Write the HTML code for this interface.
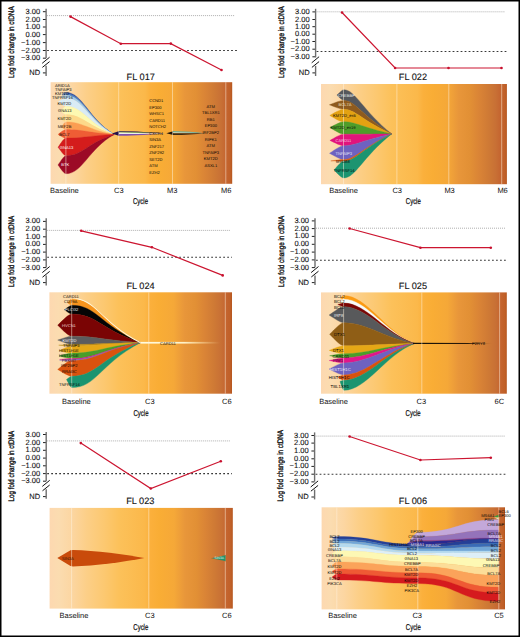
<!DOCTYPE html><html><head><meta charset="utf-8"><title>Fish plots</title><style>html,body{margin:0;padding:0;background:#fff;}body{width:520px;height:637px;overflow:hidden;font-family:"Liberation Sans",sans-serif;}svg{display:block;}</style></head><body><svg width="520" height="637" viewBox="0 0 520 637" font-family='"Liberation Sans", sans-serif' text-rendering="geometricPrecision"><defs><linearGradient id="g0" x1="0" y1="0" x2="1" y2="0"><stop offset="0.0" stop-color="#fdd8b0"/><stop offset="0.05" stop-color="#fbdcb0"/><stop offset="0.12" stop-color="#fcd6a2"/><stop offset="0.2" stop-color="#fccf88"/><stop offset="0.3" stop-color="#fcc870"/><stop offset="0.38" stop-color="#fcc15a"/><stop offset="0.52" stop-color="#fbb84a"/><stop offset="0.55" stop-color="#fbb03c"/><stop offset="0.6" stop-color="#f9ad35"/><stop offset="0.68" stop-color="#f5a838"/><stop offset="0.74" stop-color="#e8963a"/><stop offset="0.8" stop-color="#e29035"/><stop offset="0.85" stop-color="#da8436"/><stop offset="0.9" stop-color="#cf7a35"/><stop offset="0.94" stop-color="#c87035"/><stop offset="0.965" stop-color="#c56530"/><stop offset="0.99" stop-color="#c06028"/><stop offset="1.0" stop-color="#b5561e"/></linearGradient><linearGradient id="g1" x1="0" y1="0" x2="1" y2="0"><stop offset="0.0" stop-color="#fdd8b0"/><stop offset="0.05" stop-color="#fbdcb0"/><stop offset="0.12" stop-color="#fcd6a2"/><stop offset="0.2" stop-color="#fccf88"/><stop offset="0.3" stop-color="#fcc870"/><stop offset="0.38" stop-color="#fcc15a"/><stop offset="0.52" stop-color="#fbb84a"/><stop offset="0.55" stop-color="#fbb03c"/><stop offset="0.6" stop-color="#f9ad35"/><stop offset="0.68" stop-color="#f5a838"/><stop offset="0.74" stop-color="#e8963a"/><stop offset="0.8" stop-color="#e29035"/><stop offset="0.85" stop-color="#da8436"/><stop offset="0.9" stop-color="#cf7a35"/><stop offset="0.94" stop-color="#c87035"/><stop offset="0.965" stop-color="#c56530"/><stop offset="0.99" stop-color="#c06028"/><stop offset="1.0" stop-color="#b5561e"/></linearGradient><linearGradient id="g2" x1="0" y1="0" x2="1" y2="0"><stop offset="0.0" stop-color="#fdd8b0"/><stop offset="0.05" stop-color="#fbdcb0"/><stop offset="0.12" stop-color="#fcd6a2"/><stop offset="0.2" stop-color="#fccf88"/><stop offset="0.3" stop-color="#fcc870"/><stop offset="0.38" stop-color="#fcc15a"/><stop offset="0.52" stop-color="#fbb84a"/><stop offset="0.55" stop-color="#fbb03c"/><stop offset="0.6" stop-color="#f9ad35"/><stop offset="0.68" stop-color="#f5a838"/><stop offset="0.74" stop-color="#e8963a"/><stop offset="0.8" stop-color="#e29035"/><stop offset="0.85" stop-color="#da8436"/><stop offset="0.9" stop-color="#cf7a35"/><stop offset="0.94" stop-color="#c87035"/><stop offset="0.965" stop-color="#c56530"/><stop offset="0.99" stop-color="#c06028"/><stop offset="1.0" stop-color="#b5561e"/></linearGradient><linearGradient id="fadeW" x1="141" y1="0" x2="220" y2="0" gradientUnits="userSpaceOnUse"><stop offset="0" stop-color="#fffbe0"/><stop offset="0.55" stop-color="#fff6d0" stop-opacity="0.95"/><stop offset="1" stop-color="#ffe8b0" stop-opacity="0"/></linearGradient><linearGradient id="g3" x1="0" y1="0" x2="1" y2="0"><stop offset="0.0" stop-color="#fdd8b0"/><stop offset="0.05" stop-color="#fbdcb0"/><stop offset="0.12" stop-color="#fcd6a2"/><stop offset="0.2" stop-color="#fccf88"/><stop offset="0.3" stop-color="#fcc870"/><stop offset="0.38" stop-color="#fcc15a"/><stop offset="0.52" stop-color="#fbb84a"/><stop offset="0.55" stop-color="#fbb03c"/><stop offset="0.6" stop-color="#f9ad35"/><stop offset="0.68" stop-color="#f5a838"/><stop offset="0.74" stop-color="#e8963a"/><stop offset="0.8" stop-color="#e29035"/><stop offset="0.85" stop-color="#da8436"/><stop offset="0.9" stop-color="#cf7a35"/><stop offset="0.94" stop-color="#c87035"/><stop offset="0.965" stop-color="#c56530"/><stop offset="0.99" stop-color="#c06028"/><stop offset="1.0" stop-color="#b5561e"/></linearGradient><linearGradient id="fadeK" x1="411" y1="0" x2="492" y2="0" gradientUnits="userSpaceOnUse"><stop offset="0" stop-color="#151008"/><stop offset="0.7" stop-color="#2a1a08"/><stop offset="1" stop-color="#8a5020" stop-opacity="0"/></linearGradient><linearGradient id="g4" x1="0" y1="0" x2="1" y2="0"><stop offset="0.0" stop-color="#fdd8b0"/><stop offset="0.05" stop-color="#fbdcb0"/><stop offset="0.12" stop-color="#fcd6a2"/><stop offset="0.2" stop-color="#fccf88"/><stop offset="0.3" stop-color="#fcc870"/><stop offset="0.38" stop-color="#fcc15a"/><stop offset="0.52" stop-color="#fbb84a"/><stop offset="0.55" stop-color="#fbb03c"/><stop offset="0.6" stop-color="#f9ad35"/><stop offset="0.68" stop-color="#f5a838"/><stop offset="0.74" stop-color="#e8963a"/><stop offset="0.8" stop-color="#e29035"/><stop offset="0.85" stop-color="#da8436"/><stop offset="0.9" stop-color="#cf7a35"/><stop offset="0.94" stop-color="#c87035"/><stop offset="0.965" stop-color="#c56530"/><stop offset="0.99" stop-color="#c06028"/><stop offset="1.0" stop-color="#b5561e"/></linearGradient><linearGradient id="g5" x1="0" y1="0" x2="1" y2="0"><stop offset="0.0" stop-color="#fdd8b0"/><stop offset="0.05" stop-color="#fbdcb0"/><stop offset="0.12" stop-color="#fcd6a2"/><stop offset="0.2" stop-color="#fccf88"/><stop offset="0.3" stop-color="#fcc870"/><stop offset="0.38" stop-color="#fcc15a"/><stop offset="0.52" stop-color="#fbb84a"/><stop offset="0.55" stop-color="#fbb03c"/><stop offset="0.6" stop-color="#f9ad35"/><stop offset="0.68" stop-color="#f5a838"/><stop offset="0.74" stop-color="#e8963a"/><stop offset="0.8" stop-color="#e29035"/><stop offset="0.85" stop-color="#da8436"/><stop offset="0.9" stop-color="#cf7a35"/><stop offset="0.94" stop-color="#c87035"/><stop offset="0.965" stop-color="#c56530"/><stop offset="0.99" stop-color="#c06028"/><stop offset="1.0" stop-color="#b5561e"/></linearGradient></defs><rect x="0" y="0" width="520" height="637" fill="#ffffff"/><text transform="translate(14.1,42.2) rotate(-90)" x="0" y="0" font-size="8.1" text-anchor="middle" textLength="71.6" lengthAdjust="spacingAndGlyphs" fill="#111" stroke="#111" stroke-width="0.35">Log fold change in ctDNA</text>
<text x="40.1" y="13.7" font-size="7.5" text-anchor="end" fill="#111" stroke="#111" stroke-width="0.1">3.00</text>
<line x1="42.9" y1="11.7" x2="46.1" y2="11.7" stroke="#222" stroke-width="1"/>
<text x="40.1" y="21.5" font-size="7.5" text-anchor="end" fill="#111" stroke="#111" stroke-width="0.1">2.00</text>
<line x1="42.9" y1="19.5" x2="46.1" y2="19.5" stroke="#222" stroke-width="1"/>
<text x="40.1" y="29" font-size="7.5" text-anchor="end" fill="#111" stroke="#111" stroke-width="0.1">1.00</text>
<line x1="42.9" y1="27" x2="46.1" y2="27" stroke="#222" stroke-width="1"/>
<text x="40.1" y="36.6" font-size="7.5" text-anchor="end" fill="#111" stroke="#111" stroke-width="0.1">0.00</text>
<line x1="42.9" y1="34.6" x2="46.1" y2="34.6" stroke="#222" stroke-width="1"/>
<text x="40.1" y="44.6" font-size="7.5" text-anchor="end" fill="#111" stroke="#111" stroke-width="0.1">−1.00</text>
<line x1="42.9" y1="42.6" x2="46.1" y2="42.6" stroke="#222" stroke-width="1"/>
<text x="40.1" y="52.5" font-size="7.5" text-anchor="end" fill="#111" stroke="#111" stroke-width="0.1">−2.00</text>
<line x1="42.9" y1="50.5" x2="46.1" y2="50.5" stroke="#222" stroke-width="1"/>
<text x="40.1" y="60.2" font-size="7.5" text-anchor="end" fill="#111" stroke="#111" stroke-width="0.1">−3.00</text>
<line x1="42.9" y1="58.2" x2="46.1" y2="58.2" stroke="#222" stroke-width="1"/>
<text x="40.1" y="74.9" font-size="7.5" text-anchor="end" fill="#111" stroke="#111" stroke-width="0.1">ND</text>
<line x1="42.9" y1="72.9" x2="46.1" y2="72.9" stroke="#222" stroke-width="1"/>
<line x1="46.1" y1="8.8" x2="46.1" y2="57.9" stroke="#6e6e6e" stroke-width="1.4"/>
<line x1="46.1" y1="65.8" x2="46.1" y2="76" stroke="#6e6e6e" stroke-width="1.4"/>
<line x1="42.2" y1="63.3" x2="49.6" y2="57.2" stroke="#111" stroke-width="1.0"/>
<line x1="42.4" y1="67.4" x2="49.6" y2="61.6" stroke="#111" stroke-width="1.0"/>
<line x1="47.1" y1="15.6" x2="235" y2="15.6" stroke="#9a9a9a" stroke-width="0.8" stroke-dasharray="1,1"/>
<line x1="47.1" y1="50.5" x2="237" y2="50.5" stroke="#383838" stroke-width="1.1" stroke-dasharray="1.8,2.2"/>
<polyline points="70.5,16.6 120.8,43.7 170.8,43.6 221.5,70" fill="none" stroke="#cc1530" stroke-width="1.2"/>
<circle cx="70.5" cy="16.6" r="1.3" fill="#c8102e"/>
<circle cx="120.8" cy="43.7" r="1.3" fill="#c8102e"/>
<circle cx="170.8" cy="43.6" r="1.3" fill="#c8102e"/>
<circle cx="221.5" cy="70" r="1.3" fill="#c8102e"/>
<text x="126.6" y="79.8" font-size="9.2" text-anchor="start" fill="#111" stroke="#111" stroke-width="0.12">FL 017</text>
<rect x="50.6" y="82.2" width="181.6" height="101.6" fill="url(#g0)"/>
<path d="M 63,93.4 C 64.2,92.9 65.25,92.4 66,92.4 C 82.68,92.4 88.46,119.18 114.2,134.5 C 88.46,119.69 82.68,93.8 66,93.8 C 65.25,93.8 64.2,93.6 63,93.4 Z" fill="#26449a" stroke="#26449a" stroke-width="0.35" stroke-linejoin="round"/>
<path d="M 62,95 C 63.6,94.3 65,93.6 66,93.6 C 82.68,93.6 88.46,119.61 114.2,134.5 C 88.46,120.19 82.68,95.2 66,95.2 C 65,95.2 63.6,95.1 62,95 Z" fill="#4a7cc0" stroke="#4a7cc0" stroke-width="0.35" stroke-linejoin="round"/>
<path d="M 61,97.2 C 63,96.2 64.75,95.2 66,95.2 C 82.68,95.2 88.46,120.19 114.2,134.5 C 88.46,121.21 82.68,98 66,98 C 64.75,98 63,97.6 61,97.2 Z" fill="#a4cbe6" stroke="#a4cbe6" stroke-width="0.35" stroke-linejoin="round"/>
<path d="M 58.5,101.5 C 61.5,99.75 64.12,98 66,98 C 82.68,98 88.46,121.21 114.2,134.5 C 88.46,124.2 82.68,106.2 66,106.2 C 64.12,106.2 61.5,103.85 58.5,101.5 Z" fill="#d9ebf5" stroke="#d9ebf5" stroke-width="0.35" stroke-linejoin="round"/>
<path d="M 61,111 C 63,108.6 64.75,106.2 66,106.2 C 82.68,106.2 88.46,124.2 114.2,134.5 C 88.46,127.26 82.68,114.6 66,114.6 C 64.75,114.6 63,112.8 61,111 Z" fill="#fdf9b2" stroke="#fdf9b2" stroke-width="0.35" stroke-linejoin="round"/>
<path d="M 60.4,118.5 C 62.64,116.55 64.6,114.6 66,114.6 C 82.68,114.6 88.46,127.26 114.2,134.5 C 88.46,129.91 82.68,121.9 66,121.9 C 64.6,121.9 62.64,120.2 60.4,118.5 Z" fill="#fdd98a" stroke="#fdd98a" stroke-width="0.35" stroke-linejoin="round"/>
<path d="M 61.5,127 C 63.3,124.45 64.88,121.9 66,121.9 C 82.68,121.9 88.46,129.91 114.2,134.5 C 88.46,132.72 82.68,129.6 66,129.6 C 64.88,129.6 63.3,128.3 61.5,127 Z" fill="#fb9d52" stroke="#fb9d52" stroke-width="0.35" stroke-linejoin="round"/>
<path d="M 58,134.4 C 61.2,132 64,129.6 66,129.6 C 82.68,129.6 88.46,132.72 114.2,134.5 C 88.46,135.81 82.68,138.1 66,138.1 C 64,138.1 61.2,136.25 58,134.4 Z" fill="#ef5d35" stroke="#ef5d35" stroke-width="0.35" stroke-linejoin="round"/>
<path d="M 58,147.2 C 61.2,142.65 64,138.1 66,138.1 C 82.68,138.1 88.46,135.81 114.2,134.5 C 88.46,142.22 82.68,155.7 66,155.7 C 64,155.7 61.2,151.45 58,147.2 Z" fill="#d41c1c" stroke="#d41c1c" stroke-width="0.35" stroke-linejoin="round"/>
<path d="M 58,165 C 61.2,160.35 64,155.7 66,155.7 C 82.68,155.7 88.46,142.22 114.2,134.5 C 88.46,148.77 82.68,173.7 66,173.7 C 64,173.7 61.2,169.35 58,165 Z" fill="#9c0a26" stroke="#9c0a26" stroke-width="0.35" stroke-linejoin="round"/>
<path d="M 111.8,133.4 L 119.4,131.0 L 119.4,136.0 Z" fill="#24124a"/>
<path d="M 119,131 Q 132.8,131 165,133.4 Q 132.8,131.8 119,131.8 Z" fill="#2a1a55"/>
<path d="M 119,131.8 Q 132.8,131.8 165,133.4 Q 132.8,132.4 119,132.4 Z" fill="#2f7a40"/>
<path d="M 119,132.4 Q 132.8,132.4 165,133.4 Q 132.8,133.9 119,133.9 Z" fill="#eef2e6"/>
<path d="M 119,133.9 Q 132.8,133.9 165,133.4 Q 132.8,135.8 119,135.8 Z" fill="#7e50ae"/>
<path d="M 166.4,133.2 L 173.2,131.2 L 173.2,135.1 Z" fill="#1e1408"/>
<path d="M 173,131.2 Q 190.6,131.2 205,133.3 Q 190.6,132.4 173,132.4 Z" fill="#49b2ac"/>
<path d="M 173,132.4 Q 190.6,132.4 205,133.3 Q 190.6,133.2 173,133.2 Z" fill="#f2f2ea"/>
<path d="M 173,133.2 Q 190.6,133.2 205,133.3 Q 190.6,135.1 173,135.1 Z" fill="#3e2a12"/>
<line x1="65.9" y1="82.2" x2="65.9" y2="183.8" stroke="#fff4e0" stroke-width="0.9" opacity="0.55"/>
<line x1="118.7" y1="82.2" x2="118.7" y2="183.8" stroke="#fff4e0" stroke-width="0.9" opacity="0.55"/>
<line x1="172.5" y1="82.2" x2="172.5" y2="183.8" stroke="#fff4e0" stroke-width="0.9" opacity="0.55"/>
<line x1="225.8" y1="82.2" x2="225.8" y2="183.8" stroke="#fff4e0" stroke-width="0.9" opacity="0.55"/>
<text transform="translate(55,86.98) scale(0.410)" x="0" y="0" font-size="10" text-anchor="start" fill="#050505">ARID1A</text>
<text transform="translate(55,91.08) scale(0.410)" x="0" y="0" font-size="10" text-anchor="start" fill="#050505">TNFAIP3</text>
<text transform="translate(55,95.08) scale(0.410)" x="0" y="0" font-size="10" text-anchor="start" fill="#050505">KMT2D</text>
<text transform="translate(52,99.28) scale(0.410)" x="0" y="0" font-size="10" text-anchor="start" fill="#050505">TNFRSF14</text>
<text transform="translate(57.4,105.08) scale(0.410)" x="0" y="0" font-size="10" text-anchor="start" fill="#050505">KMT2D</text>
<text transform="translate(58,112.48) scale(0.410)" x="0" y="0" font-size="10" text-anchor="start" fill="#050505">GNA13</text>
<text transform="translate(57.4,119.68) scale(0.410)" x="0" y="0" font-size="10" text-anchor="start" fill="#050505">KMT2D</text>
<text transform="translate(57.7,128.38) scale(0.410)" x="0" y="0" font-size="10" text-anchor="start" fill="#050505">MEF2B</text>
<text transform="translate(59.2,136.28) scale(0.410)" x="0" y="0" font-size="10" text-anchor="start" fill="#050505">BCL7</text>
<text transform="translate(59.8,148.78) scale(0.410)" x="0" y="0" font-size="10" text-anchor="start" fill="#ffffff">GNA13</text>
<text transform="translate(61.2,166.08) scale(0.410)" x="0" y="0" font-size="10" text-anchor="start" fill="#ffffff">BTK</text>
<text transform="translate(149.2,101.98) scale(0.410)" x="0" y="0" font-size="10" text-anchor="start" fill="#050505">CCND1</text>
<text transform="translate(149.2,108.51) scale(0.410)" x="0" y="0" font-size="10" text-anchor="start" fill="#050505">EP300</text>
<text transform="translate(149.2,115.04) scale(0.410)" x="0" y="0" font-size="10" text-anchor="start" fill="#050505">WHSC1</text>
<text transform="translate(149.2,121.57) scale(0.410)" x="0" y="0" font-size="10" text-anchor="start" fill="#050505">CARD11</text>
<text transform="translate(149.2,128.1) scale(0.410)" x="0" y="0" font-size="10" text-anchor="start" fill="#050505">NOTCH2</text>
<text transform="translate(149.2,134.63) scale(0.410)" x="0" y="0" font-size="10" text-anchor="start" fill="#050505">CXCR4</text>
<text transform="translate(149.2,141.16) scale(0.410)" x="0" y="0" font-size="10" text-anchor="start" fill="#050505">SIN3A</text>
<text transform="translate(149.2,147.69) scale(0.410)" x="0" y="0" font-size="10" text-anchor="start" fill="#050505">ZNF217</text>
<text transform="translate(149.2,154.22) scale(0.410)" x="0" y="0" font-size="10" text-anchor="start" fill="#050505">ZNF292</text>
<text transform="translate(149.2,160.75) scale(0.410)" x="0" y="0" font-size="10" text-anchor="start" fill="#050505">SET2D</text>
<text transform="translate(149.2,167.28) scale(0.410)" x="0" y="0" font-size="10" text-anchor="start" fill="#050505">ATM</text>
<text transform="translate(149.2,173.81) scale(0.410)" x="0" y="0" font-size="10" text-anchor="start" fill="#050505">EZH2</text>
<text transform="translate(210.8,107.88) scale(0.410)" x="0" y="0" font-size="10" text-anchor="middle" fill="#050505">ATM</text>
<text transform="translate(210.8,114.41) scale(0.410)" x="0" y="0" font-size="10" text-anchor="middle" fill="#050505">TBL1XR1</text>
<text transform="translate(210.8,120.94) scale(0.410)" x="0" y="0" font-size="10" text-anchor="middle" fill="#050505">RB1</text>
<text transform="translate(210.8,127.47) scale(0.410)" x="0" y="0" font-size="10" text-anchor="middle" fill="#050505">EP300</text>
<text transform="translate(210.8,134) scale(0.410)" x="0" y="0" font-size="10" text-anchor="middle" fill="#050505">IRF2BP2</text>
<text transform="translate(210.8,140.53) scale(0.410)" x="0" y="0" font-size="10" text-anchor="middle" fill="#050505">RIPK1</text>
<text transform="translate(210.8,147.06) scale(0.410)" x="0" y="0" font-size="10" text-anchor="middle" fill="#050505">ATM</text>
<text transform="translate(210.8,153.59) scale(0.410)" x="0" y="0" font-size="10" text-anchor="middle" fill="#050505">TNFAIP3</text>
<text transform="translate(210.8,160.12) scale(0.410)" x="0" y="0" font-size="10" text-anchor="middle" fill="#050505">KMT2D</text>
<text transform="translate(210.8,166.65) scale(0.410)" x="0" y="0" font-size="10" text-anchor="middle" fill="#050505">ASXL1</text>
<text x="50" y="193.2" font-size="7.5" text-anchor="start" fill="#111" >Baseline</text>
<text x="118.8" y="193.2" font-size="7.5" text-anchor="middle" fill="#111" >C3</text>
<text x="172.3" y="193.2" font-size="7.5" text-anchor="middle" fill="#111" >M3</text>
<text x="226.3" y="193.2" font-size="7.5" text-anchor="middle" fill="#111" >M6</text>
<text x="133" y="203.6" font-size="8.6" textLength="15" lengthAdjust="spacingAndGlyphs" fill="#111" stroke="#111" stroke-width="0.25">Cycle</text>
<text transform="translate(283.6,42.1) rotate(-90)" x="0" y="0" font-size="8.1" text-anchor="middle" textLength="71.8" lengthAdjust="spacingAndGlyphs" fill="#111" stroke="#111" stroke-width="0.35">Log fold change in ctDNA</text>
<text x="309.6" y="13.9" font-size="7.5" text-anchor="end" fill="#111" stroke="#111" stroke-width="0.1">3.00</text>
<line x1="312.4" y1="11.9" x2="315.6" y2="11.9" stroke="#222" stroke-width="1"/>
<text x="309.6" y="21.5" font-size="7.5" text-anchor="end" fill="#111" stroke="#111" stroke-width="0.1">2.00</text>
<line x1="312.4" y1="19.5" x2="315.6" y2="19.5" stroke="#222" stroke-width="1"/>
<text x="309.6" y="28.7" font-size="7.5" text-anchor="end" fill="#111" stroke="#111" stroke-width="0.1">1.00</text>
<line x1="312.4" y1="26.7" x2="315.6" y2="26.7" stroke="#222" stroke-width="1"/>
<text x="309.6" y="36.2" font-size="7.5" text-anchor="end" fill="#111" stroke="#111" stroke-width="0.1">0.00</text>
<line x1="312.4" y1="34.2" x2="315.6" y2="34.2" stroke="#222" stroke-width="1"/>
<text x="309.6" y="43.5" font-size="7.5" text-anchor="end" fill="#111" stroke="#111" stroke-width="0.1">−1.00</text>
<line x1="312.4" y1="41.5" x2="315.6" y2="41.5" stroke="#222" stroke-width="1"/>
<text x="309.6" y="51.2" font-size="7.5" text-anchor="end" fill="#111" stroke="#111" stroke-width="0.1">−2.00</text>
<line x1="312.4" y1="49.2" x2="315.6" y2="49.2" stroke="#222" stroke-width="1"/>
<text x="309.6" y="58.8" font-size="7.5" text-anchor="end" fill="#111" stroke="#111" stroke-width="0.1">−3.00</text>
<line x1="312.4" y1="56.8" x2="315.6" y2="56.8" stroke="#222" stroke-width="1"/>
<text x="309.6" y="74.9" font-size="7.5" text-anchor="end" fill="#111" stroke="#111" stroke-width="0.1">ND</text>
<line x1="312.4" y1="72.9" x2="315.6" y2="72.9" stroke="#222" stroke-width="1"/>
<line x1="315.6" y1="8.8" x2="315.6" y2="57.4" stroke="#6e6e6e" stroke-width="1.4"/>
<line x1="315.6" y1="65.8" x2="315.6" y2="76" stroke="#6e6e6e" stroke-width="1.4"/>
<line x1="311.7" y1="62.8" x2="319.1" y2="56.7" stroke="#111" stroke-width="1.0"/>
<line x1="311.9" y1="67.4" x2="319.1" y2="61.6" stroke="#111" stroke-width="1.0"/>
<line x1="316.6" y1="11.8" x2="505" y2="11.8" stroke="#9a9a9a" stroke-width="0.8" stroke-dasharray="1,1"/>
<line x1="316.6" y1="51.5" x2="507" y2="51.5" stroke="#383838" stroke-width="1.1" stroke-dasharray="1.8,2.2"/>
<polyline points="342,12.5 395.1,68 448.5,68 501.5,68" fill="none" stroke="#cc1530" stroke-width="1.2"/>
<circle cx="342" cy="12.5" r="1.3" fill="#c8102e"/>
<circle cx="395.1" cy="68" r="1.3" fill="#c8102e"/>
<circle cx="448.5" cy="68" r="1.3" fill="#c8102e"/>
<circle cx="501.5" cy="68" r="1.3" fill="#c8102e"/>
<text x="398.8" y="79.8" font-size="9.2" text-anchor="start" fill="#111" stroke="#111" stroke-width="0.12">FL 022</text>
<rect x="321" y="84" width="185.9" height="100.2" fill="url(#g1)"/>
<path d="M 336.9,95.1 C 339.66,92.4 342.07,89.7 343.8,89.7 C 355.44,89.7 362.67,110.74 391.7,133.9 C 362.67,116.35 355.44,100.4 343.8,100.4 C 342.07,100.4 339.66,97.75 336.9,95.1 Z" fill="#54575c" stroke="#54575c" stroke-width="0.35" stroke-linejoin="round"/>
<path d="M 329.4,104.8 C 335.16,102.6 340.2,100.4 343.8,100.4 C 355.44,100.4 362.67,116.35 391.7,133.9 C 362.67,121.01 355.44,109.3 343.8,109.3 C 340.2,109.3 335.16,107.05 329.4,104.8 Z" fill="#8e5b1e" stroke="#8e5b1e" stroke-width="0.35" stroke-linejoin="round"/>
<path d="M 329.8,115.4 C 335.4,112.35 340.3,109.3 343.8,109.3 C 355.44,109.3 362.67,121.01 391.7,133.9 C 362.67,127.56 355.44,121.8 343.8,121.8 C 340.3,121.8 335.4,118.6 329.8,115.4 Z" fill="#e3a212" stroke="#e3a212" stroke-width="0.35" stroke-linejoin="round"/>
<path d="M 329.8,127.5 C 335.4,124.65 340.3,121.8 343.8,121.8 C 355.44,121.8 362.67,127.56 391.7,133.9 C 362.67,134.06 355.44,134.2 343.8,134.2 C 340.3,134.2 335.4,130.85 329.8,127.5 Z" fill="#4f9d2a" stroke="#4f9d2a" stroke-width="0.35" stroke-linejoin="round"/>
<path d="M 329.9,140.4 C 335.46,137.3 340.32,134.2 343.8,134.2 C 355.44,134.2 362.67,134.06 391.7,133.9 C 362.67,140.08 355.44,145.7 343.8,145.7 C 340.32,145.7 335.46,143.05 329.9,140.4 Z" fill="#e2147c" stroke="#e2147c" stroke-width="0.35" stroke-linejoin="round"/>
<path d="M 329.5,153.3 C 335.22,149.5 340.23,145.7 343.8,145.7 C 355.44,145.7 362.67,140.08 391.7,133.9 C 362.67,147.31 355.44,159.5 343.8,159.5 C 340.23,159.5 335.22,156.4 329.5,153.3 Z" fill="#6e62c0" stroke="#6e62c0" stroke-width="0.35" stroke-linejoin="round"/>
<path d="M 330.8,160.9 C 336,160.2 340.55,159.5 343.8,159.5 C 355.44,159.5 362.67,147.31 391.7,133.9 C 362.67,148.21 355.44,161.2 343.8,161.2 C 340.55,161.2 336,161.05 330.8,160.9 Z" fill="#d75a10" stroke="#d75a10" stroke-width="0.35" stroke-linejoin="round"/>
<path d="M 334,170 C 337.92,165.6 341.35,161.2 343.8,161.2 C 355.44,161.2 362.67,148.21 391.7,133.9 C 362.67,156.96 355.44,177.9 343.8,177.9 C 341.35,177.9 337.92,173.95 334,170 Z" fill="#1c9470" stroke="#1c9470" stroke-width="0.35" stroke-linejoin="round"/>
<line x1="343.5" y1="84" x2="343.5" y2="184.2" stroke="#fff4e0" stroke-width="0.9" opacity="0.55"/>
<line x1="396.9" y1="84" x2="396.9" y2="184.2" stroke="#fff4e0" stroke-width="0.9" opacity="0.55"/>
<line x1="448.8" y1="84" x2="448.8" y2="184.2" stroke="#fff4e0" stroke-width="0.9" opacity="0.55"/>
<line x1="501.7" y1="84" x2="501.7" y2="184.2" stroke="#fff4e0" stroke-width="0.9" opacity="0.55"/>
<text transform="translate(338,96.98) scale(0.410)" x="0" y="0" font-size="10" text-anchor="start" fill="#f0f0f0">CREBBP</text>
<text transform="translate(338.5,106.28) scale(0.410)" x="0" y="0" font-size="10" text-anchor="start" fill="#f5e6c8">BCL7A</text>
<text transform="translate(333,116.88) scale(0.410)" x="0" y="0" font-size="10" text-anchor="start" fill="#050505">KMT2D_ex6</text>
<text transform="translate(330.5,128.78) scale(0.410)" x="0" y="0" font-size="10" text-anchor="start" fill="#050505">KMT2D_ex19</text>
<text transform="translate(335.5,141.88) scale(0.410)" x="0" y="0" font-size="10" text-anchor="start" fill="#f7d0e6">CARD11</text>
<text transform="translate(335.5,154.68) scale(0.410)" x="0" y="0" font-size="10" text-anchor="start" fill="#e6e2f6">TNFAIP3</text>
<text transform="translate(336,162.78) scale(0.410)" x="0" y="0" font-size="10" text-anchor="start" fill="#050505">MYD88</text>
<text transform="translate(333.8,171.78) scale(0.410)" x="0" y="0" font-size="10" text-anchor="start" fill="#050505">TNFRSF14</text>
<text x="329.2" y="193.4" font-size="7.5" text-anchor="start" fill="#111" >Baseline</text>
<text x="397.2" y="193.4" font-size="7.5" text-anchor="middle" fill="#111" >C3</text>
<text x="449.6" y="193.4" font-size="7.5" text-anchor="middle" fill="#111" >M3</text>
<text x="502.6" y="193.4" font-size="7.5" text-anchor="middle" fill="#111" >M6</text>
<text x="405.8" y="203.5" font-size="8.6" textLength="15" lengthAdjust="spacingAndGlyphs" fill="#111" stroke="#111" stroke-width="0.25">Cycle</text>
<text transform="translate(14.1,251.4) rotate(-90)" x="0" y="0" font-size="8.1" text-anchor="middle" textLength="71.2" lengthAdjust="spacingAndGlyphs" fill="#111" stroke="#111" stroke-width="0.35">Log fold change in ctDNA</text>
<text x="40.2" y="223.4" font-size="7.5" text-anchor="end" fill="#111" stroke="#111" stroke-width="0.1">3.00</text>
<line x1="43" y1="221.4" x2="46.2" y2="221.4" stroke="#222" stroke-width="1"/>
<text x="40.2" y="231.2" font-size="7.5" text-anchor="end" fill="#111" stroke="#111" stroke-width="0.1">2.00</text>
<line x1="43" y1="229.2" x2="46.2" y2="229.2" stroke="#222" stroke-width="1"/>
<text x="40.2" y="238.8" font-size="7.5" text-anchor="end" fill="#111" stroke="#111" stroke-width="0.1">1.00</text>
<line x1="43" y1="236.8" x2="46.2" y2="236.8" stroke="#222" stroke-width="1"/>
<text x="40.2" y="246.4" font-size="7.5" text-anchor="end" fill="#111" stroke="#111" stroke-width="0.1">0.00</text>
<line x1="43" y1="244.4" x2="46.2" y2="244.4" stroke="#222" stroke-width="1"/>
<text x="40.2" y="254.1" font-size="7.5" text-anchor="end" fill="#111" stroke="#111" stroke-width="0.1">−1.00</text>
<line x1="43" y1="252.1" x2="46.2" y2="252.1" stroke="#222" stroke-width="1"/>
<text x="40.2" y="261.9" font-size="7.5" text-anchor="end" fill="#111" stroke="#111" stroke-width="0.1">−2.00</text>
<line x1="43" y1="259.9" x2="46.2" y2="259.9" stroke="#222" stroke-width="1"/>
<text x="40.2" y="269.6" font-size="7.5" text-anchor="end" fill="#111" stroke="#111" stroke-width="0.1">−3.00</text>
<line x1="43" y1="267.6" x2="46.2" y2="267.6" stroke="#222" stroke-width="1"/>
<text x="40.2" y="284.6" font-size="7.5" text-anchor="end" fill="#111" stroke="#111" stroke-width="0.1">ND</text>
<line x1="43" y1="282.6" x2="46.2" y2="282.6" stroke="#222" stroke-width="1"/>
<line x1="46.2" y1="218.2" x2="46.2" y2="267.2" stroke="#6e6e6e" stroke-width="1.4"/>
<line x1="46.2" y1="275.6" x2="46.2" y2="285.5" stroke="#6e6e6e" stroke-width="1.4"/>
<line x1="42.3" y1="272.6" x2="49.7" y2="266.5" stroke="#111" stroke-width="1.0"/>
<line x1="42.5" y1="277.2" x2="49.7" y2="271.4" stroke="#111" stroke-width="1.0"/>
<line x1="47.2" y1="230.4" x2="230" y2="230.4" stroke="#9a9a9a" stroke-width="0.8" stroke-dasharray="1,1"/>
<line x1="47.2" y1="257.2" x2="232" y2="257.2" stroke="#383838" stroke-width="1.1" stroke-dasharray="1.8,2.2"/>
<polyline points="81.2,230.8 151.9,247.3 222.7,275.4" fill="none" stroke="#cc1530" stroke-width="1.2"/>
<circle cx="81.2" cy="230.8" r="1.3" fill="#c8102e"/>
<circle cx="151.9" cy="247.3" r="1.3" fill="#c8102e"/>
<circle cx="222.7" cy="275.4" r="1.3" fill="#c8102e"/>
<text x="126.4" y="288.8" font-size="9.2" text-anchor="start" fill="#111" stroke="#111" stroke-width="0.12">FL 024</text>
<rect x="49.4" y="292.3" width="182.6" height="101.4" fill="url(#g2)"/>
<path d="M 67.5,302.8 C 69.3,300.8 70.88,298.8 72,298.8 C 96.15,298.8 99.22,321.18 140.4,342.6 C 99.22,324.36 96.15,305.3 72,305.3 C 70.88,305.3 69.3,304.05 67.5,302.8 Z" fill="#f7941d" stroke="#f7941d" stroke-width="0.35" stroke-linejoin="round"/>
<path d="M 64.4,309.8 C 67.44,307.55 70.1,305.3 72,305.3 C 96.15,305.3 99.22,324.36 140.4,342.6 C 99.22,328.66 96.15,314.1 72,314.1 C 70.1,314.1 67.44,311.95 64.4,309.8 Z" fill="#050505" stroke="#050505" stroke-width="0.35" stroke-linejoin="round"/>
<path d="M 57.7,325.2 C 63.42,319.65 68.42,314.1 72,314.1 C 96.15,314.1 99.22,328.66 140.4,342.6 C 99.22,339.47 96.15,336.2 72,336.2 C 68.42,336.2 63.42,330.7 57.7,325.2 Z" fill="#7a0404" stroke="#7a0404" stroke-width="0.35" stroke-linejoin="round"/>
<path d="M 57.7,340.1 C 63.42,338.15 68.42,336.2 72,336.2 C 96.15,336.2 99.22,339.47 140.4,342.6 C 99.22,343.48 96.15,344.4 72,344.4 C 68.42,344.4 63.42,342.25 57.7,340.1 Z" fill="#5c5c5e" stroke="#5c5c5e" stroke-width="0.35" stroke-linejoin="round"/>
<path d="M 58.7,345.2 C 64.02,344.8 68.67,344.4 72,344.4 C 96.15,344.4 99.22,343.48 140.4,342.6 C 99.22,344.26 96.15,346 72,346 C 68.67,346 64.02,345.6 58.7,345.2 Z" fill="#b88a1a" stroke="#b88a1a" stroke-width="0.35" stroke-linejoin="round"/>
<path d="M 59,350.7 C 64.2,348.35 68.75,346 72,346 C 96.15,346 99.22,344.26 140.4,342.6 C 99.22,347.73 96.15,353.1 72,353.1 C 68.75,353.1 64.2,351.9 59,350.7 Z" fill="#e5a716" stroke="#e5a716" stroke-width="0.35" stroke-linejoin="round"/>
<path d="M 59.1,356 C 64.26,354.55 68.78,353.1 72,353.1 C 96.15,353.1 99.22,347.73 140.4,342.6 C 99.22,350.42 96.15,358.6 72,358.6 C 68.78,358.6 64.26,357.3 59.1,356 Z" fill="#4a9e2a" stroke="#4a9e2a" stroke-width="0.35" stroke-linejoin="round"/>
<path d="M 59.6,359.5 C 64.56,359.05 68.9,358.6 72,358.6 C 96.15,358.6 99.22,350.42 140.4,342.6 C 99.22,350.91 96.15,359.6 72,359.6 C 68.9,359.6 64.56,359.55 59.6,359.5 Z" fill="#d6168c" stroke="#d6168c" stroke-width="0.35" stroke-linejoin="round"/>
<path d="M 59.6,360.3 C 64.56,359.95 68.9,359.6 72,359.6 C 96.15,359.6 99.22,350.91 140.4,342.6 C 99.22,351.4 96.15,360.6 72,360.6 C 68.9,360.6 64.56,360.45 59.6,360.3 Z" fill="#7b68c8" stroke="#7b68c8" stroke-width="0.35" stroke-linejoin="round"/>
<path d="M 57.7,369.4 C 63.42,365 68.42,360.6 72,360.6 C 96.15,360.6 99.22,351.4 140.4,342.6 C 99.22,359.03 96.15,376.2 72,376.2 C 68.42,376.2 63.42,372.8 57.7,369.4 Z" fill="#d9520e" stroke="#d9520e" stroke-width="0.35" stroke-linejoin="round"/>
<path d="M 66.5,379.5 C 68.7,377.85 70.62,376.2 72,376.2 C 96.15,376.2 99.22,359.03 140.4,342.6 C 99.22,364.61 96.15,387.6 72,387.6 C 70.62,387.6 68.7,383.55 66.5,379.5 Z" fill="#1b9470" stroke="#1b9470" stroke-width="0.35" stroke-linejoin="round"/>
<path d="M 77,298.3 C 72,297.8 72,297.9 72,298.0 C 96.15,298 99.22,320.48 140.4,342 L 140.4,343.3 C 99.22,321.64 96.15,299 72,299 Z" fill="#fffbe0"/>
<rect x="140.3" y="341.9" width="79.7" height="1.7" fill="url(#fadeW)"/>
<text transform="translate(160,344.78) scale(0.410)" x="0" y="0" font-size="10" text-anchor="start" fill="#050505">CARD11</text>
<line x1="71.7" y1="292.3" x2="71.7" y2="393.7" stroke="#fff4e0" stroke-width="0.9" opacity="0.55"/>
<line x1="148.8" y1="292.3" x2="148.8" y2="393.7" stroke="#fff4e0" stroke-width="0.9" opacity="0.55"/>
<line x1="225.3" y1="292.3" x2="225.3" y2="393.7" stroke="#fff4e0" stroke-width="0.9" opacity="0.55"/>
<text transform="translate(63,297.78) scale(0.410)" x="0" y="0" font-size="10" text-anchor="start" fill="#050505">CARD11</text>
<text transform="translate(64,303.08) scale(0.410)" x="0" y="0" font-size="10" text-anchor="start" fill="#050505">CD79A</text>
<text transform="translate(64.9,311.28) scale(0.410)" x="0" y="0" font-size="10" text-anchor="start" fill="#f0f0f0">PLCG2</text>
<text transform="translate(62,327.28) scale(0.410)" x="0" y="0" font-size="10" text-anchor="start" fill="#f0d8d8">HVCN1</text>
<text transform="translate(62.5,341.58) scale(0.410)" x="0" y="0" font-size="10" text-anchor="start" fill="#f0f0f0">KMT2D</text>
<text transform="translate(63,346.68) scale(0.410)" x="0" y="0" font-size="10" text-anchor="start" fill="#050505">TNFAIP3</text>
<text transform="translate(59.1,352.18) scale(0.410)" x="0" y="0" font-size="10" text-anchor="start" fill="#050505">HIST1H1E</text>
<text transform="translate(59.1,357.48) scale(0.410)" x="0" y="0" font-size="10" text-anchor="start" fill="#050505">HIST1H1E</text>
<text transform="translate(62,362.48) scale(0.410)" x="0" y="0" font-size="10" text-anchor="start" fill="#3a0a2a">FBXW7</text>
<text transform="translate(61,367.48) scale(0.410)" x="0" y="0" font-size="10" text-anchor="start" fill="#050505">IRF2BP2</text>
<text transform="translate(62,372.68) scale(0.410)" x="0" y="0" font-size="10" text-anchor="start" fill="#050505">RRAGC</text>
<text transform="translate(59.1,385.78) scale(0.410)" x="0" y="0" font-size="10" text-anchor="start" fill="#050505">TNFRSF14</text>
<text x="62" y="403.7" font-size="7.5" text-anchor="start" fill="#111" >Baseline</text>
<text x="149.9" y="403.7" font-size="7.5" text-anchor="middle" fill="#111" >C3</text>
<text x="226.9" y="403.7" font-size="7.5" text-anchor="middle" fill="#111" >C6</text>
<text x="133.5" y="416.2" font-size="8.6" textLength="15" lengthAdjust="spacingAndGlyphs" fill="#111" stroke="#111" stroke-width="0.25">Cycle</text>
<text transform="translate(283.6,251.4) rotate(-90)" x="0" y="0" font-size="8.1" text-anchor="middle" textLength="71.2" lengthAdjust="spacingAndGlyphs" fill="#111" stroke="#111" stroke-width="0.35">Log fold change in ctDNA</text>
<text x="309" y="222.9" font-size="7.5" text-anchor="end" fill="#111" stroke="#111" stroke-width="0.1">3.00</text>
<line x1="311.8" y1="220.9" x2="315" y2="220.9" stroke="#222" stroke-width="1"/>
<text x="309" y="230.6" font-size="7.5" text-anchor="end" fill="#111" stroke="#111" stroke-width="0.1">2.00</text>
<line x1="311.8" y1="228.6" x2="315" y2="228.6" stroke="#222" stroke-width="1"/>
<text x="309" y="238.4" font-size="7.5" text-anchor="end" fill="#111" stroke="#111" stroke-width="0.1">1.00</text>
<line x1="311.8" y1="236.4" x2="315" y2="236.4" stroke="#222" stroke-width="1"/>
<text x="309" y="246.3" font-size="7.5" text-anchor="end" fill="#111" stroke="#111" stroke-width="0.1">0.00</text>
<line x1="311.8" y1="244.3" x2="315" y2="244.3" stroke="#222" stroke-width="1"/>
<text x="309" y="254.1" font-size="7.5" text-anchor="end" fill="#111" stroke="#111" stroke-width="0.1">−1.00</text>
<line x1="311.8" y1="252.1" x2="315" y2="252.1" stroke="#222" stroke-width="1"/>
<text x="309" y="261.9" font-size="7.5" text-anchor="end" fill="#111" stroke="#111" stroke-width="0.1">−2.00</text>
<line x1="311.8" y1="259.9" x2="315" y2="259.9" stroke="#222" stroke-width="1"/>
<text x="309" y="269.6" font-size="7.5" text-anchor="end" fill="#111" stroke="#111" stroke-width="0.1">−3.00</text>
<line x1="311.8" y1="267.6" x2="315" y2="267.6" stroke="#222" stroke-width="1"/>
<text x="309" y="284.6" font-size="7.5" text-anchor="end" fill="#111" stroke="#111" stroke-width="0.1">ND</text>
<line x1="311.8" y1="282.6" x2="315" y2="282.6" stroke="#222" stroke-width="1"/>
<line x1="315" y1="218.2" x2="315" y2="267.2" stroke="#6e6e6e" stroke-width="1.4"/>
<line x1="315" y1="275.4" x2="315" y2="285" stroke="#6e6e6e" stroke-width="1.4"/>
<line x1="311.1" y1="272.6" x2="318.5" y2="266.5" stroke="#111" stroke-width="1.0"/>
<line x1="311.3" y1="277" x2="318.5" y2="271.2" stroke="#111" stroke-width="1.0"/>
<line x1="316" y1="228.2" x2="505" y2="228.2" stroke="#9a9a9a" stroke-width="0.8" stroke-dasharray="1,1"/>
<line x1="316" y1="260.3" x2="507" y2="260.3" stroke="#383838" stroke-width="1.1" stroke-dasharray="1.8,2.2"/>
<polyline points="349.6,228.5 420.4,247.7 490.8,247.7" fill="none" stroke="#cc1530" stroke-width="1.2"/>
<circle cx="349.6" cy="228.5" r="1.3" fill="#c8102e"/>
<circle cx="420.4" cy="247.7" r="1.3" fill="#c8102e"/>
<circle cx="490.8" cy="247.7" r="1.3" fill="#c8102e"/>
<text x="398.8" y="288.6" font-size="9.2" text-anchor="start" fill="#111" stroke="#111" stroke-width="0.12">FL 025</text>
<rect x="321" y="292.4" width="185.8" height="101.3" fill="url(#g3)"/>
<path d="M 340.5,298 C 341.9,296.8 343.12,295.6 344,295.6 C 366.43,295.6 385.48,331.91 414.3,343.5 C 385.48,332.78 366.43,299.2 344,299.2 C 343.12,299.2 341.9,298.6 340.5,298 Z" fill="#fb9a12" stroke="#fb9a12" stroke-width="0.35" stroke-linejoin="round"/>
<path d="M 340.5,301.6 C 341.9,300.4 343.12,299.2 344,299.2 C 366.43,299.2 385.48,332.78 414.3,343.5 C 385.48,333.72 366.43,303.1 344,303.1 C 343.12,303.1 341.9,302.35 340.5,301.6 Z" fill="#f6fcfb" stroke="#f6fcfb" stroke-width="0.35" stroke-linejoin="round"/>
<path d="M 337.8,304.5 C 340.28,303.8 342.45,303.1 344,303.1 C 366.43,303.1 385.48,333.72 414.3,343.5 C 385.48,334.59 366.43,306.7 344,306.7 C 342.45,306.7 340.28,305.6 337.8,304.5 Z" fill="#7b0606" stroke="#7b0606" stroke-width="0.35" stroke-linejoin="round"/>
<path d="M 329.1,315.1 C 335.06,310.9 340.27,306.7 344,306.7 C 366.43,306.7 385.48,334.59 414.3,343.5 C 385.48,338.47 366.43,322.7 344,322.7 C 340.27,322.7 335.06,318.9 329.1,315.1 Z" fill="#58595b" stroke="#58595b" stroke-width="0.35" stroke-linejoin="round"/>
<path d="M 329.6,334.3 C 335.36,328.5 340.4,322.7 344,322.7 C 366.43,322.7 385.48,338.47 414.3,343.5 C 385.48,344.06 366.43,345.8 344,345.8 C 340.4,345.8 335.36,340.05 329.6,334.3 Z" fill="#8f5e16" stroke="#8f5e16" stroke-width="0.35" stroke-linejoin="round"/>
<path d="M 329.1,350.4 C 335.06,348.1 340.27,345.8 344,345.8 C 366.43,345.8 385.48,344.06 414.3,343.5 C 385.48,345.99 366.43,353.8 344,353.8 C 340.27,353.8 335.06,352.1 329.1,350.4 Z" fill="#e5a716" stroke="#e5a716" stroke-width="0.35" stroke-linejoin="round"/>
<path d="M 329.6,355.7 C 335.36,354.75 340.4,353.8 344,353.8 C 366.43,353.8 385.48,345.99 414.3,343.5 C 385.48,346.98 366.43,357.9 344,357.9 C 340.4,357.9 335.36,356.8 329.6,355.7 Z" fill="#4a9e2a" stroke="#4a9e2a" stroke-width="0.35" stroke-linejoin="round"/>
<path d="M 329.1,360.5 C 335.06,359.2 340.27,357.9 344,357.9 C 366.43,357.9 385.48,346.98 414.3,343.5 C 385.48,348.19 366.43,362.9 344,362.9 C 340.27,362.9 335.06,361.7 329.1,360.5 Z" fill="#e2168a" stroke="#e2168a" stroke-width="0.35" stroke-linejoin="round"/>
<path d="M 329.1,369.1 C 335.06,366 340.27,362.9 344,362.9 C 366.43,362.9 385.48,348.19 414.3,343.5 C 385.48,351.1 366.43,374.9 344,374.9 C 340.27,374.9 335.06,372 329.1,369.1 Z" fill="#6e62c0" stroke="#6e62c0" stroke-width="0.35" stroke-linejoin="round"/>
<path d="M 337.8,377.3 C 340.28,376.1 342.45,374.9 344,374.9 C 366.43,374.9 385.48,351.1 414.3,343.5 C 385.48,352.38 366.43,380.2 344,380.2 C 342.45,380.2 340.28,378.75 337.8,377.3 Z" fill="#d9520e" stroke="#d9520e" stroke-width="0.35" stroke-linejoin="round"/>
<path d="M 340,381.5 C 341.6,380.85 343,380.2 344,380.2 C 366.43,380.2 385.48,352.38 414.3,343.5 C 385.48,354.83 366.43,390.3 344,390.3 C 343,390.3 341.6,385.9 340,381.5 Z" fill="#1b9470" stroke="#1b9470" stroke-width="0.35" stroke-linejoin="round"/>
<path d="M 413,342.8 L 472,342.9 L 492,343.1 L 492,343.7 L 472,344.0 L 413,344.1 Z" fill="url(#fadeK)"/>
<text transform="translate(472,344.78) scale(0.410)" x="0" y="0" font-size="10" text-anchor="start" fill="#050505">P2RY8</text>
<line x1="343.6" y1="292.4" x2="343.6" y2="393.7" stroke="#fff4e0" stroke-width="0.9" opacity="0.55"/>
<line x1="421.8" y1="292.4" x2="421.8" y2="393.7" stroke="#fff4e0" stroke-width="0.9" opacity="0.55"/>
<line x1="499.6" y1="292.4" x2="499.6" y2="393.7" stroke="#fff4e0" stroke-width="0.9" opacity="0.55"/>
<text transform="translate(334,297.85) scale(0.430)" x="0" y="0" font-size="10" text-anchor="start" fill="#050505">BCL2</text>
<text transform="translate(334,303.15) scale(0.430)" x="0" y="0" font-size="10" text-anchor="start" fill="#050505">BCL2</text>
<text transform="translate(334,308.65) scale(0.430)" x="0" y="0" font-size="10" text-anchor="start" fill="#050505">BCL2</text>
<text transform="translate(334,316.65) scale(0.430)" x="0" y="0" font-size="10" text-anchor="start" fill="#e8e8e8">IRF8</text>
<text transform="translate(334,335.85) scale(0.430)" x="0" y="0" font-size="10" text-anchor="start" fill="#050505">DTX1</text>
<text transform="translate(333,351.95) scale(0.430)" x="0" y="0" font-size="10" text-anchor="start" fill="#050505">DTX1</text>
<text transform="translate(332.5,357.55) scale(0.430)" x="0" y="0" font-size="10" text-anchor="start" fill="#050505">CARD11</text>
<text transform="translate(333,362.35) scale(0.430)" x="0" y="0" font-size="10" text-anchor="start" fill="#3a0a2a">PIM1</text>
<text transform="translate(330,370.65) scale(0.430)" x="0" y="0" font-size="10" text-anchor="start" fill="#e6e2f6">HIST1H1C</text>
<text transform="translate(328.7,379.35) scale(0.430)" x="0" y="0" font-size="10" text-anchor="start" fill="#050505">HIST1H1C</text>
<text transform="translate(330.6,387.95) scale(0.430)" x="0" y="0" font-size="10" text-anchor="start" fill="#050505">TBL1XR1</text>
<text x="319.2" y="404" font-size="7.5" text-anchor="start" fill="#111" >Baseline</text>
<text x="421.3" y="404" font-size="7.5" text-anchor="middle" fill="#111" >C3</text>
<text x="499.4" y="404" font-size="7.5" text-anchor="middle" fill="#111" >6C</text>
<text x="405.6" y="416.2" font-size="8.6" textLength="15" lengthAdjust="spacingAndGlyphs" fill="#111" stroke="#111" stroke-width="0.25">Cycle</text>
<text transform="translate(14.1,466.1) rotate(-90)" x="0" y="0" font-size="8.1" text-anchor="middle" textLength="70.6" lengthAdjust="spacingAndGlyphs" fill="#111" stroke="#111" stroke-width="0.35">Log fold change in ctDNA</text>
<text x="40.2" y="436.5" font-size="7.5" text-anchor="end" fill="#111" stroke="#111" stroke-width="0.1">3.00</text>
<line x1="43" y1="434.5" x2="46.2" y2="434.5" stroke="#222" stroke-width="1"/>
<text x="40.2" y="444.6" font-size="7.5" text-anchor="end" fill="#111" stroke="#111" stroke-width="0.1">2.00</text>
<line x1="43" y1="442.6" x2="46.2" y2="442.6" stroke="#222" stroke-width="1"/>
<text x="40.2" y="452.3" font-size="7.5" text-anchor="end" fill="#111" stroke="#111" stroke-width="0.1">1.00</text>
<line x1="43" y1="450.3" x2="46.2" y2="450.3" stroke="#222" stroke-width="1"/>
<text x="40.2" y="460.1" font-size="7.5" text-anchor="end" fill="#111" stroke="#111" stroke-width="0.1">0.00</text>
<line x1="43" y1="458.1" x2="46.2" y2="458.1" stroke="#222" stroke-width="1"/>
<text x="40.2" y="467.8" font-size="7.5" text-anchor="end" fill="#111" stroke="#111" stroke-width="0.1">−1.00</text>
<line x1="43" y1="465.8" x2="46.2" y2="465.8" stroke="#222" stroke-width="1"/>
<text x="40.2" y="475.6" font-size="7.5" text-anchor="end" fill="#111" stroke="#111" stroke-width="0.1">−2.00</text>
<line x1="43" y1="473.6" x2="46.2" y2="473.6" stroke="#222" stroke-width="1"/>
<text x="40.2" y="483.2" font-size="7.5" text-anchor="end" fill="#111" stroke="#111" stroke-width="0.1">−3.00</text>
<line x1="43" y1="481.2" x2="46.2" y2="481.2" stroke="#222" stroke-width="1"/>
<text x="40.2" y="498.6" font-size="7.5" text-anchor="end" fill="#111" stroke="#111" stroke-width="0.1">ND</text>
<line x1="43" y1="496.6" x2="46.2" y2="496.6" stroke="#222" stroke-width="1"/>
<line x1="46.2" y1="432" x2="46.2" y2="481" stroke="#6e6e6e" stroke-width="1.4"/>
<line x1="46.2" y1="489.2" x2="46.2" y2="498.7" stroke="#6e6e6e" stroke-width="1.4"/>
<line x1="42.3" y1="486.4" x2="49.7" y2="480.3" stroke="#111" stroke-width="1.0"/>
<line x1="42.5" y1="490.8" x2="49.7" y2="485" stroke="#111" stroke-width="1.0"/>
<line x1="47.2" y1="440.9" x2="230" y2="440.9" stroke="#9a9a9a" stroke-width="0.8" stroke-dasharray="1,1"/>
<line x1="47.2" y1="473.6" x2="232" y2="473.6" stroke="#383838" stroke-width="1.1" stroke-dasharray="1.8,2.2"/>
<polyline points="80.8,443.1 150.8,488.5 220.8,461.2" fill="none" stroke="#cc1530" stroke-width="1.2"/>
<circle cx="80.8" cy="443.1" r="1.3" fill="#c8102e"/>
<circle cx="150.8" cy="488.5" r="1.3" fill="#c8102e"/>
<circle cx="220.8" cy="461.2" r="1.3" fill="#c8102e"/>
<text x="126.2" y="503.8" font-size="9.2" text-anchor="start" fill="#111" stroke="#111" stroke-width="0.12">FL 023</text>
<rect x="49.6" y="507.9" width="183.2" height="100.7" fill="url(#g4)"/>
<path d="M 57.3,558.1 L 70.5,550.3 Q 71.6,550.0 73,550.0 C 95,550.4 125,554.5 144.4,558.1 C 125,561.8 95,566.2 73,566.4 Q 71.6,566.4 70.5,566.0 Z" fill="#c94b0b"/>
<line x1="71.6" y1="507.9" x2="71.6" y2="608.6" stroke="#fff4e0" stroke-width="0.9" opacity="0.55"/>
<line x1="148.8" y1="507.9" x2="148.8" y2="608.6" stroke="#fff4e0" stroke-width="0.9" opacity="0.55"/>
<line x1="225.3" y1="507.9" x2="225.3" y2="608.6" stroke="#fff4e0" stroke-width="0.9" opacity="0.55"/>
<text transform="translate(62,559.58) scale(0.410)" x="0" y="0" font-size="10" text-anchor="start" fill="#3a1a0a">SIN3A</text>
<path d="M 211,558.2 L 225.7,555.1 L 225.7,561.3 Z" fill="#1b9470" stroke="#e06a20" stroke-width="0.3"/>
<text transform="translate(214.5,559.49) scale(0.330)" x="0" y="0" font-size="10" text-anchor="start" fill="#e8f5ee">SIN3A</text>
<text x="59.6" y="617.6" font-size="7.5" text-anchor="start" fill="#111" >Baseline</text>
<text x="149.9" y="617.6" font-size="7.5" text-anchor="middle" fill="#111" >C3</text>
<text x="226.9" y="617.6" font-size="7.5" text-anchor="middle" fill="#111" >C6</text>
<text x="133.3" y="630" font-size="8.6" textLength="15" lengthAdjust="spacingAndGlyphs" fill="#111" stroke="#111" stroke-width="0.25">Cycle</text>
<text transform="translate(282.9,465.7) rotate(-90)" x="0" y="0" font-size="8.1" text-anchor="middle" textLength="71.4" lengthAdjust="spacingAndGlyphs" fill="#111" stroke="#111" stroke-width="0.35">Log fold change in ctDNA</text>
<text x="308.6" y="437.5" font-size="7.5" text-anchor="end" fill="#111" stroke="#111" stroke-width="0.1">3.00</text>
<line x1="311.4" y1="435.5" x2="314.6" y2="435.5" stroke="#222" stroke-width="1"/>
<text x="308.6" y="445.1" font-size="7.5" text-anchor="end" fill="#111" stroke="#111" stroke-width="0.1">2.00</text>
<line x1="311.4" y1="443.1" x2="314.6" y2="443.1" stroke="#222" stroke-width="1"/>
<text x="308.6" y="453" font-size="7.5" text-anchor="end" fill="#111" stroke="#111" stroke-width="0.1">1.00</text>
<line x1="311.4" y1="451" x2="314.6" y2="451" stroke="#222" stroke-width="1"/>
<text x="308.6" y="460.8" font-size="7.5" text-anchor="end" fill="#111" stroke="#111" stroke-width="0.1">0.00</text>
<line x1="311.4" y1="458.8" x2="314.6" y2="458.8" stroke="#222" stroke-width="1"/>
<text x="308.6" y="468.4" font-size="7.5" text-anchor="end" fill="#111" stroke="#111" stroke-width="0.1">−1.00</text>
<line x1="311.4" y1="466.4" x2="314.6" y2="466.4" stroke="#222" stroke-width="1"/>
<text x="308.6" y="476.2" font-size="7.5" text-anchor="end" fill="#111" stroke="#111" stroke-width="0.1">−2.00</text>
<line x1="311.4" y1="474.2" x2="314.6" y2="474.2" stroke="#222" stroke-width="1"/>
<text x="308.6" y="483.9" font-size="7.5" text-anchor="end" fill="#111" stroke="#111" stroke-width="0.1">−3.00</text>
<line x1="311.4" y1="481.9" x2="314.6" y2="481.9" stroke="#222" stroke-width="1"/>
<text x="308.6" y="499" font-size="7.5" text-anchor="end" fill="#111" stroke="#111" stroke-width="0.1">ND</text>
<line x1="311.4" y1="497" x2="314.6" y2="497" stroke="#222" stroke-width="1"/>
<line x1="314.6" y1="432.4" x2="314.6" y2="481.6" stroke="#6e6e6e" stroke-width="1.4"/>
<line x1="314.6" y1="489.6" x2="314.6" y2="499.4" stroke="#6e6e6e" stroke-width="1.4"/>
<line x1="310.7" y1="487" x2="318.1" y2="480.9" stroke="#111" stroke-width="1.0"/>
<line x1="310.9" y1="491.2" x2="318.1" y2="485.4" stroke="#111" stroke-width="1.0"/>
<line x1="315.6" y1="436.1" x2="505" y2="436.1" stroke="#9a9a9a" stroke-width="0.8" stroke-dasharray="1,1"/>
<line x1="315.6" y1="474.2" x2="507" y2="474.2" stroke="#383838" stroke-width="1.1" stroke-dasharray="1.8,2.2"/>
<polyline points="349.6,436.5 420.4,460 490.8,457.7" fill="none" stroke="#cc1530" stroke-width="1.2"/>
<circle cx="349.6" cy="436.5" r="1.3" fill="#c8102e"/>
<circle cx="420.4" cy="460" r="1.3" fill="#c8102e"/>
<circle cx="490.8" cy="457.7" r="1.3" fill="#c8102e"/>
<text x="398.8" y="503.6" font-size="9.2" text-anchor="start" fill="#111" stroke="#111" stroke-width="0.12">FL 006</text>
<rect x="321.6" y="507.3" width="183.4" height="102.1" fill="url(#g5)"/>
<path d="M 332,537.75 C 334,537.17 335.75,536.6 337,536.6 C 377.5,536.6 377.5,544.5 418,544.5 C 458.3,544.5 458.3,538.6 498.6,538.6 L 498.6,542.9 C 458.3,542.9 458.3,546.8 418,546.8 C 377.5,546.8 377.5,538.9 337,538.9 C 335.75,538.9 334,538.33 332,537.75 Z" fill="#253f96" stroke="#253f96" stroke-width="0.3" stroke-linejoin="round"/>
<path d="M 332,540 C 334,539.45 335.75,538.9 337,538.9 C 377.5,538.9 377.5,546.8 418,546.8 C 458.3,546.8 458.3,542.9 498.6,542.9 L 498.6,546.7 C 458.3,546.7 458.3,548.8 418,548.8 C 377.5,548.8 377.5,541.1 337,541.1 C 335.75,541.1 334,540.55 332,540 Z" fill="#3b6cb6" stroke="#3b6cb6" stroke-width="0.3" stroke-linejoin="round"/>
<path d="M 332,542.25 C 334,541.67 335.75,541.1 337,541.1 C 377.5,541.1 377.5,548.8 418,548.8 C 458.3,548.8 458.3,546.7 498.6,546.7 L 498.6,551 C 458.3,551 458.3,551 418,551 C 377.5,551 377.5,543.4 337,543.4 C 335.75,543.4 334,542.83 332,542.25 Z" fill="#72a6d6" stroke="#72a6d6" stroke-width="0.3" stroke-linejoin="round"/>
<path d="M 332,545.35 C 334,544.38 335.75,543.4 337,543.4 C 377.5,543.4 377.5,551 418,551 C 458.3,551 458.3,551 498.6,551 L 498.6,552.8 C 458.3,552.8 458.3,553.2 418,553.2 C 377.5,553.2 377.5,547.3 337,547.3 C 335.75,547.3 334,546.32 332,545.35 Z" fill="#b4d9ee" stroke="#b4d9ee" stroke-width="0.3" stroke-linejoin="round"/>
<path d="M 332,549 C 334,548.15 335.75,547.3 337,547.3 C 377.5,547.3 377.5,553.2 418,553.2 C 458.3,553.2 458.3,552.8 498.6,552.8 L 498.6,558.9 C 458.3,558.9 458.3,555.5 418,555.5 C 377.5,555.5 377.5,550.7 337,550.7 C 335.75,550.7 334,549.85 332,549 Z" fill="#ddeff7" stroke="#ddeff7" stroke-width="0.3" stroke-linejoin="round"/>
<path d="M 332,553.75 C 334,552.23 335.75,550.7 337,550.7 C 377.5,550.7 377.5,555.5 418,555.5 C 458.3,555.5 458.3,558.9 498.6,558.9 L 498.6,567.6 C 458.3,567.6 458.3,562.4 418,562.4 C 377.5,562.4 377.5,556.8 337,556.8 C 335.75,556.8 334,555.27 332,553.75 Z" fill="#fdf8b4" stroke="#fdf8b4" stroke-width="0.3" stroke-linejoin="round"/>
<path d="M 332,559.4 C 334,558.1 335.75,556.8 337,556.8 C 377.5,556.8 377.5,562.4 418,562.4 C 458.3,562.4 458.3,567.6 498.6,567.6 L 498.6,575.2 C 458.3,575.2 458.3,566.4 418,566.4 C 377.5,566.4 377.5,562 337,562 C 335.75,562 334,560.7 332,559.4 Z" fill="#fcdd98" stroke="#fcdd98" stroke-width="0.3" stroke-linejoin="round"/>
<path d="M 332,565.45 C 334,563.73 335.75,562 337,562 C 377.5,562 377.5,566.4 418,566.4 C 458.3,566.4 458.3,575.2 498.6,575.2 L 498.6,587.3 C 458.3,587.3 458.3,572.8 418,572.8 C 377.5,572.8 377.5,568.9 337,568.9 C 335.75,568.9 334,567.17 332,565.45 Z" fill="#fba35a" stroke="#fba35a" stroke-width="0.3" stroke-linejoin="round"/>
<path d="M 332,571.45 C 334,570.17 335.75,568.9 337,568.9 C 377.5,568.9 377.5,572.8 418,572.8 C 458.3,572.8 458.3,587.3 498.6,587.3 L 498.6,593 C 458.3,593 458.3,577.8 418,577.8 C 377.5,577.8 377.5,574 337,574 C 335.75,574 334,572.73 332,571.45 Z" fill="#ef5a34" stroke="#ef5a34" stroke-width="0.3" stroke-linejoin="round"/>
<path d="M 332,577.05 C 334,575.52 335.75,574 337,574 C 377.5,574 377.5,577.8 418,577.8 C 458.3,577.8 458.3,593 498.6,593 L 498.6,601.3 C 458.3,601.3 458.3,583.6 418,583.6 C 377.5,583.6 377.5,580.1 337,580.1 C 335.75,580.1 334,578.58 332,577.05 Z" fill="#d51a1e" stroke="#d51a1e" stroke-width="0.3" stroke-linejoin="round"/>
<path d="M 407.5,543.8 C 411.7,538.1 415.38,532.4 418,532.4 C 458.3,532.4 458.3,519.6 498.6,519.6 L 498.6,530 C 458.3,530 458.3,536.6 418,536.6 C 415.38,536.6 411.7,540.2 407.5,543.8 Z" fill="#c3a8da" stroke="#c3a8da" stroke-width="0.3" stroke-linejoin="round"/>
<path d="M 407.5,543.8 C 411.7,540.2 415.38,536.6 418,536.6 C 458.3,536.6 458.3,530 498.6,530 L 498.6,537.9 C 458.3,537.9 458.3,540.6 418,540.6 C 415.38,540.6 411.7,542.2 407.5,543.8 Z" fill="#9473ba" stroke="#9473ba" stroke-width="0.3" stroke-linejoin="round"/>
<path d="M 407.5,543.8 C 411.7,542.2 415.38,540.6 418,540.6 C 458.3,540.6 458.3,537.9 498.6,537.9 L 498.6,538.6 C 458.3,538.6 458.3,541.4 418,541.4 C 415.38,541.4 411.7,542.6 407.5,543.8 Z" fill="#8c3a96" stroke="#8c3a96" stroke-width="0.3" stroke-linejoin="round"/>
<path d="M 407.5,543.8 C 411.7,542.6 415.38,541.4 418,541.4 C 458.3,541.4 458.3,538.6 498.6,538.6 L 498.6,538.6 C 458.3,538.6 458.3,544.5 418,544.5 C 415.38,544.5 411.7,544.15 407.5,543.8 Z" fill="#2a2890" stroke="#2a2890" stroke-width="0.3" stroke-linejoin="round"/>
<path d="M 494,516.5 L 498.6,514.8 L 498.6,517.5 Z" fill="#3a9a3a"/>
<path d="M 494,517.5 L 498.6,517.5 L 498.6,519.6 Z" fill="#e0f0b0"/>
<line x1="336.8" y1="507.3" x2="336.8" y2="609.4" stroke="#fff4e0" stroke-width="0.9" opacity="0.55"/>
<line x1="417.8" y1="507.3" x2="417.8" y2="609.4" stroke="#fff4e0" stroke-width="0.9" opacity="0.55"/>
<line x1="498.8" y1="507.3" x2="498.8" y2="609.4" stroke="#fff4e0" stroke-width="0.9" opacity="0.55"/>
<text transform="translate(334.5,537.98) scale(0.410)" x="0" y="0" font-size="10" text-anchor="middle" fill="#050505">BCL2</text>
<text transform="translate(334.5,542.58) scale(0.410)" x="0" y="0" font-size="10" text-anchor="middle" fill="#050505">BCL2</text>
<text transform="translate(334.5,546.98) scale(0.410)" x="0" y="0" font-size="10" text-anchor="middle" fill="#050505">BCL2</text>
<text transform="translate(334.5,550.98) scale(0.410)" x="0" y="0" font-size="10" text-anchor="middle" fill="#050505">GNA13</text>
<text transform="translate(334.5,556.78) scale(0.410)" x="0" y="0" font-size="10" text-anchor="middle" fill="#050505">CREBBP</text>
<text transform="translate(334.5,562.48) scale(0.410)" x="0" y="0" font-size="10" text-anchor="middle" fill="#050505">BCL7A</text>
<text transform="translate(334.5,568.28) scale(0.410)" x="0" y="0" font-size="10" text-anchor="middle" fill="#050505">KMT2D</text>
<text transform="translate(334.5,574.38) scale(0.410)" x="0" y="0" font-size="10" text-anchor="middle" fill="#050505">KMT2D</text>
<text transform="translate(334.5,580.48) scale(0.410)" x="0" y="0" font-size="10" text-anchor="middle" fill="#050505">EZH2</text>
<text transform="translate(334.5,585.08) scale(0.410)" x="0" y="0" font-size="10" text-anchor="middle" fill="#050505">PIK3CA</text>
<text transform="translate(416.7,533.08) scale(0.410)" x="0" y="0" font-size="10" text-anchor="middle" fill="#050505">EP300</text>
<text transform="translate(416.6,537.78) scale(0.410)" x="0" y="0" font-size="10" text-anchor="middle" fill="#050505">CREBBP</text>
<text transform="translate(416.3,542.28) scale(0.410)" x="0" y="0" font-size="10" text-anchor="middle" fill="#050505">BCL7A</text>
<text transform="translate(417.5,546.08) scale(0.410)" x="0" y="0" font-size="10" text-anchor="middle" fill="#e8e0f4">MS4A1</text>
<text transform="translate(412,550.48) scale(0.410)" x="0" y="0" font-size="10" text-anchor="middle" fill="#050505">BCL2</text>
<text transform="translate(412,554.98) scale(0.410)" x="0" y="0" font-size="10" text-anchor="middle" fill="#050505">BCL2</text>
<text transform="translate(411.3,559.88) scale(0.410)" x="0" y="0" font-size="10" text-anchor="middle" fill="#050505">GNA13</text>
<text transform="translate(412.4,564.98) scale(0.410)" x="0" y="0" font-size="10" text-anchor="middle" fill="#050505">CREBBP</text>
<text transform="translate(411.6,571.48) scale(0.410)" x="0" y="0" font-size="10" text-anchor="middle" fill="#050505">BCL7A</text>
<text transform="translate(411.3,576.18) scale(0.410)" x="0" y="0" font-size="10" text-anchor="middle" fill="#050505">KMT2D</text>
<text transform="translate(411.3,582.28) scale(0.410)" x="0" y="0" font-size="10" text-anchor="middle" fill="#050505">KMT2D</text>
<text transform="translate(412,587.08) scale(0.410)" x="0" y="0" font-size="10" text-anchor="middle" fill="#050505">EZH2</text>
<text transform="translate(411.7,591.98) scale(0.410)" x="0" y="0" font-size="10" text-anchor="middle" fill="#050505">PIK3CA</text>
<text transform="translate(389.3,545.88) scale(0.410)" x="0" y="0" font-size="10" text-anchor="start" fill="#050505">HIST1H1E</text>
<text transform="translate(425.8,546.78) scale(0.410)" x="0" y="0" font-size="10" text-anchor="start" fill="#e8e4f8">RRAGC</text>
<text transform="translate(494.6,517.48) scale(0.410)" x="0" y="0" font-size="10" text-anchor="end" fill="#050505">MS4A1</text>
<text transform="translate(494,520.88) scale(0.410)" x="0" y="0" font-size="10" text-anchor="end" fill="#050505">PIM1</text>
<text transform="translate(495.8,526.08) scale(0.410)" x="0" y="0" font-size="10" text-anchor="middle" fill="#050505">CREBBP</text>
<text transform="translate(500.5,534.68) scale(0.410)" x="0" y="0" font-size="10" text-anchor="end" fill="#050505">BCL7A</text>
<text transform="translate(495.8,538.08) scale(0.410)" x="0" y="0" font-size="10" text-anchor="middle" fill="#f0e8ff">MS4A1</text>
<text transform="translate(495.8,542.28) scale(0.410)" x="0" y="0" font-size="10" text-anchor="middle" fill="#f0e8ff">RRAGC</text>
<text transform="translate(501,547.28) scale(0.410)" x="0" y="0" font-size="10" text-anchor="end" fill="#050505">BCL2</text>
<text transform="translate(501,551.88) scale(0.410)" x="0" y="0" font-size="10" text-anchor="end" fill="#050505">BCL2</text>
<text transform="translate(501,556.58) scale(0.410)" x="0" y="0" font-size="10" text-anchor="end" fill="#050505">BCL2</text>
<text transform="translate(499.5,561.28) scale(0.410)" x="0" y="0" font-size="10" text-anchor="end" fill="#050505">GNA13</text>
<text transform="translate(499.5,566.98) scale(0.410)" x="0" y="0" font-size="10" text-anchor="end" fill="#050505">CREBBP</text>
<text transform="translate(500.3,575.08) scale(0.410)" x="0" y="0" font-size="10" text-anchor="end" fill="#050505">BCL7A</text>
<text transform="translate(500.3,584.98) scale(0.410)" x="0" y="0" font-size="10" text-anchor="end" fill="#050505">KMT2D</text>
<text transform="translate(500.3,593.88) scale(0.410)" x="0" y="0" font-size="10" text-anchor="end" fill="#050505">KMT2D</text>
<text transform="translate(500.3,602.58) scale(0.410)" x="0" y="0" font-size="10" text-anchor="end" fill="#050505">EZH2</text>
<text transform="translate(498.5,513.48) scale(0.410)" x="0" y="0" font-size="10" text-anchor="start" fill="#050505">BCL6</text>
<text transform="translate(498.5,516.68) scale(0.410)" x="0" y="0" font-size="10" text-anchor="start" fill="#050505">EP300</text>
<text x="328.2" y="617.7" font-size="7.5" text-anchor="start" fill="#111" >Baseline</text>
<text x="417.2" y="617.7" font-size="7.5" text-anchor="middle" fill="#111" >C3</text>
<text x="499" y="617.7" font-size="7.5" text-anchor="middle" fill="#111" >C5</text>
<text x="405.8" y="630.2" font-size="8.6" textLength="15" lengthAdjust="spacingAndGlyphs" fill="#111" stroke="#111" stroke-width="0.25">Cycle</text><rect x="0.75" y="0.75" width="518.5" height="635.5" fill="none" stroke="#000" stroke-width="1.5"/></svg></body></html>
